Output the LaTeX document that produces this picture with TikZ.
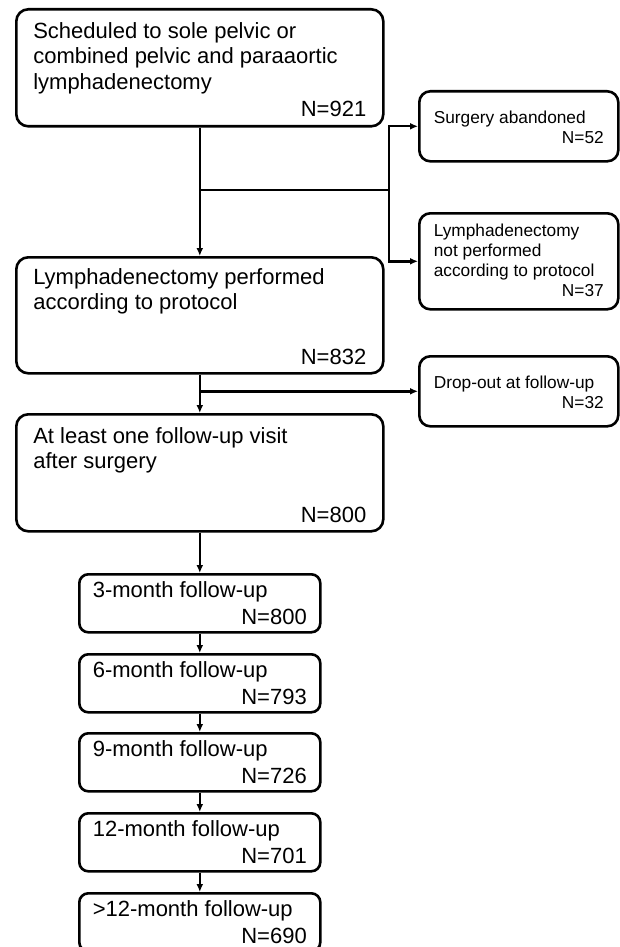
\documentclass[tikz,border=0pt]{standalone}
\usepackage{fontspec}
\setmainfont{Liberation Sans}
\usetikzlibrary{arrows.meta,positioning}

% box body: width, height, first baseline, bottom gap, text, count
\newcommand{\stagetext}[6]{%
  \vbox to #2pt{\hsize=#1pt\parindent=0pt\raggedright
    \leavevmode\rule{0pt}{#3pt}#5\par
    \vfill
    \hbox to\hsize{\hfill #6}%
    \vskip #4pt}}

\begin{document}
\begin{tikzpicture}[x=1pt,y=-1pt,
    >={Latex[length=8pt,width=7pt]},
    link/.style={line width=2.4pt},
    stage/.style={draw,line width=2.6pt,rounded corners=12pt,anchor=north west,
      inner ysep=0pt,inner xsep=17pt,font=\fontsize{22}{25.5}\selectfont},
    followup/.style={stage,rounded corners=9pt,inner xsep=13.5pt},
    side/.style={stage,rounded corners=11pt,inner xsep=14.5pt,
      font=\fontsize{17.3}{20}\selectfont}]
          \useasboundingbox (0,0) rectangle (619,947);
          % main column
          \node[stage] (sched) at (15,8) {\stagetext{333}{117}{29}{10}{Scheduled to sole pelvic or\\combined pelvic and paraaortic\\lymphadenectomy}{N=921}};
          \node[stage] (perf) at (15,256) {\stagetext{333}{116}{27}{9}{Lymphadenectomy performed\\according to protocol}{N=832}};
          \node[stage] (visit) at (15,413) {\stagetext{333}{117}{29}{9}{At least one follow-up visit\\after surgery}{N=800}};
          % side boxes
          \node[side] (abandon) at (418,90) {\stagetext{170}{70}{32}{18}{Surgery abandoned}{N=52}};
          \node[side] (notperf) at (418,212) {\stagetext{170}{96}{23}{13}{Lymphadenectomy\\not performed\\according to protocol}{N=37}};
          \node[side] (dropout) at (418,355) {\stagetext{170}{70}{32}{18}{Drop-out at follow-up}{N=32}};
          % follow-up visits
          \node[followup] (fu3) at (78,573) {\stagetext{214}{58}{23}{8}{3-month follow-up}{N=800}};
          \node[followup] (fu6) at (78,653) {\stagetext{214}{58}{23}{8}{6-month follow-up}{N=793}};
          \node[followup] (fu9) at (78,732) {\stagetext{214}{58}{23}{8}{9-month follow-up}{N=726}};
          \node[followup] (fu12) at (78,812) {\stagetext{214}{58}{23}{8}{12-month follow-up}{N=701}};
          \node[followup] (fu12plus) at (78,892) {\stagetext{214}{58}{23}{8}{>12-month follow-up}{N=690}};
          % connectors
          \coordinate (rail) at (389,190);
          \coordinate (split1) at (sched.south |- rail);
          \draw[link,->] (sched.south) -- (perf.north);
          \draw[link] (split1) -- (rail);
          \draw[link,->] (rail) |- (abandon.west);
          \draw[link,->] (rail) |- (notperf.west);
          \coordinate (split2) at (perf.south |- dropout.west);
          \draw[link,->] (perf.south) -- (visit.north);
          \draw[link,->] (split2) -- (dropout.west);
          \draw[link,->] (visit.south) -- (fu3.north);
          \draw[link,->] (fu3) -- (fu6);
          \draw[link,->] (fu6) -- (fu9);
          \draw[link,->] (fu9) -- (fu12);
          \draw[link,->] (fu12) -- (fu12plus);
        \end{tikzpicture}
\end{document}
